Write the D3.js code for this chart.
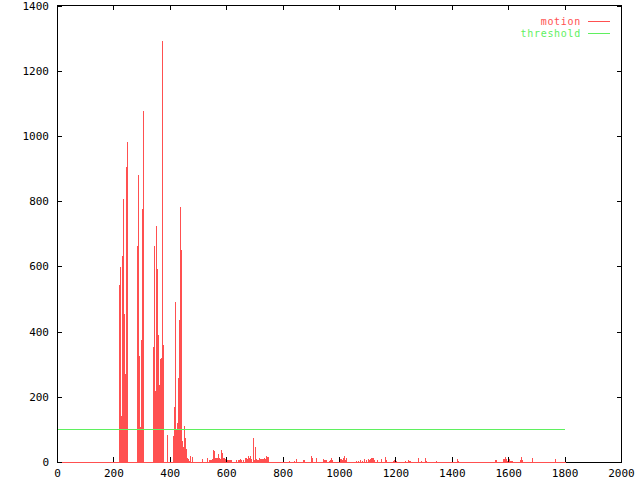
<!DOCTYPE html>
<html>
<head>
<meta charset="utf-8">
<script src="https://cdn.jsdelivr.net/npm/d3@7"></script>
<style>
  html, body { margin: 0; padding: 0; background: #fff; }
  svg { display: block; }
  text { font-family: "DejaVu Sans Mono", "Liberation Mono", monospace; font-size: 11px; }
</style>
</head>
<body>
<script>
// ---- data ----
const motionX = [
  220, 223, 227, 230, 234, 238, 241, 245, 248,
  284, 287, 291, 294, 298, 301, 305,
  340, 344, 348, 351, 355, 358, 362, 365, 369, 372, 376,
  390, 411, 415, 418, 422, 425, 429, 433, 436, 440, 443, 447, 450, 454, 457, 461, 464, 468, 472, 479,
  514, 532, 539, 543, 546, 550, 553, 557, 560, 564, 567, 571, 574, 578, 582, 585, 589, 592, 596, 599,
  603, 606, 610, 613, 617, 635, 642, 645, 649, 652, 660, 667, 670, 674, 677, 681, 684, 688,
  695, 699, 702, 706, 709, 713, 716, 720, 723, 727, 730, 734, 738, 741, 745, 748,
  823, 840, 848, 872, 876, 901, 904, 918, 943, 947, 950, 954, 965, 968, 972, 975,
  1000, 1004, 1007, 1011, 1014, 1018, 1021, 1025, 1060, 1067, 1074, 1082, 1089, 1096,
  1103, 1106, 1110, 1113, 1117, 1121, 1124, 1135, 1149, 1163, 1167, 1191, 1195, 1199, 1202,
  1234, 1245, 1248, 1252, 1280, 1291, 1305, 1308, 1344, 1418, 1422,
  1553, 1557, 1582, 1585, 1589, 1592, 1596, 1599, 1603, 1606, 1610, 1613,
  1642, 1645, 1649, 1684, 1766
];
const motionY = [
  543, 597, 141, 632, 807, 454, 270, 906, 981,
  663, 880, 325, 108, 374, 776, 1078,
  354, 663, 219, 724, 592, 391, 236, 316, 319, 1291, 359,
  83, 80, 170, 492, 101, 120, 257, 435, 783, 650, 65, 47, 110, 75, 40, 13, 10, 4, 17, 14,
  10, 12, 7, 7, 7, 9, 38, 34, 13, 13, 13, 25, 13, 9, 37, 27, 13, 13, 10, 9,
  6, 6, 6, 6, 6, 7, 6, 6, 9, 6, 7, 13, 13, 9, 17, 13, 17, 9,
  75, 7, 46, 9, 5, 5, 11, 10, 10, 10, 10, 13, 10, 17, 15, 15,
  3, 4, 9, 7, 5, 17, 11, 12, 10, 6, 6, 6, 4, 6, 12, 7,
  10, 8, 10, 7, 12, 17, 6, 13, 3, 4, 6, 4, 9, 5,
  9, 6, 10, 12, 12, 12, 6, 7, 9, 15, 6, 4, 7, 4, 4,
  3, 6, 4, 4, 13, 4, 13, 4, 3, 10, 4,
  7, 7, 8, 10, 15, 8, 4, 13, 8, 4, 3, 3,
  6, 15, 6, 12, 10
];
const motionRange = [0, 1800];          // motion samples span (zero elsewhere)
const thresholdX = [0, 1800];
const thresholdY = [100, 100];
const xTicks = [0, 200, 400, 600, 800, 1000, 1200, 1400, 1600, 1800, 2000];
const yTicks = [0, 200, 400, 600, 800, 1000, 1200, 1400];
const seriesNames = ["motion", "threshold"];

// ---- drawing ----
const W = 640, H = 480;
const RED = "#ff5050", GREEN = "#5ff05f";
const svg = d3.select("body").append("svg").attr("width", W).attr("height", H)
  .attr("shape-rendering", "crispEdges");

const x = d3.scaleLinear().domain([0, 2000]).range([57.5, 621.5]);
const y = d3.scaleLinear().domain([0, 1400]).range([462, 5.6]);
const px = v => Math.floor(x(v));

// frame
const L = px(0), R = px(2000), T = 5, B = 462;
svg.append("rect").attr("x", L).attr("y", T).attr("width", 1).attr("height", B - T + 1).attr("fill", "#000");
svg.append("rect").attr("x", R).attr("y", T).attr("width", 1).attr("height", B - T + 1).attr("fill", "#000");
svg.append("rect").attr("x", L).attr("y", T).attr("width", R - L + 1).attr("height", 1).attr("fill", "#000");
svg.append("rect").attr("x", L).attr("y", B).attr("width", R - L + 1).attr("height", 1).attr("fill", "#000");

// motion impulses
const motion = motionX.map((v, i) => ({ x: v, y: motionY[i] }));
svg.append("rect").attr("x", px(motionRange[0])).attr("y", B)
  .attr("width", px(motionRange[1]) - px(motionRange[0]) + 1).attr("height", 1).attr("fill", RED);
svg.append("g").selectAll("rect").data(motion).join("rect")
  .attr("x", d => px(d.x))
  .attr("y", d => Math.round(y(d.y)))
  .attr("width", 1)
  .attr("height", d => B - Math.round(y(d.y)) + 1)
  .attr("fill", RED);

// ticks
const tk = svg.append("g");
tk.selectAll(".xt").data(xTicks).join("rect").attr("class", "xt")
  .attr("x", d => px(d)).attr("y", B - 5).attr("width", 1).attr("height", 5).attr("fill", "#000");
tk.selectAll(".xt2").data(xTicks).join("rect").attr("class", "xt2")
  .attr("x", d => px(d)).attr("y", T).attr("width", 1).attr("height", 5).attr("fill", "#000");
tk.selectAll(".yt").data(yTicks).join("rect").attr("class", "yt")
  .attr("x", L).attr("y", d => Math.round(y(d))).attr("width", 5).attr("height", 1).attr("fill", "#000");
tk.selectAll(".yt2").data(yTicks).join("rect").attr("class", "yt2")
  .attr("x", R - 4).attr("y", d => Math.round(y(d))).attr("width", 5).attr("height", 1).attr("fill", "#000");

// threshold line
const thr = thresholdX.map((v, i) => ({ x: v, y: thresholdY[i] }));
svg.append("path").datum(thr)
  .attr("d", d3.line().x(d => x(d.x)).y(d => Math.round(y(d.y)) + 0.5))
  .attr("stroke", GREEN).attr("stroke-width", 1).attr("fill", "none");

// labels
svg.append("g").selectAll("text").data(xTicks).join("text")
  .attr("x", d => x(d)).attr("y", 477).attr("text-anchor", "middle").text(d => d);
svg.append("g").selectAll("text").data(yTicks).join("text")
  .attr("x", 49).attr("y", d => y(d) + 4).attr("text-anchor", "end").text(d => d);

// legend
const leg = svg.append("g");
[RED, GREEN].forEach((c, i) => {
  const yy = 21 + i * 12;
  leg.append("text").attr("x", 581).attr("y", yy + 3.5).attr("text-anchor", "end")
    .style("font-size", "10px").style("letter-spacing", "0.7px")
    .attr("fill", c).text(seriesNames[i]);
  leg.append("rect").attr("x", 588).attr("y", yy).attr("width", 22).attr("height", 1).attr("fill", c);
});
</script>
</body>
</html>
